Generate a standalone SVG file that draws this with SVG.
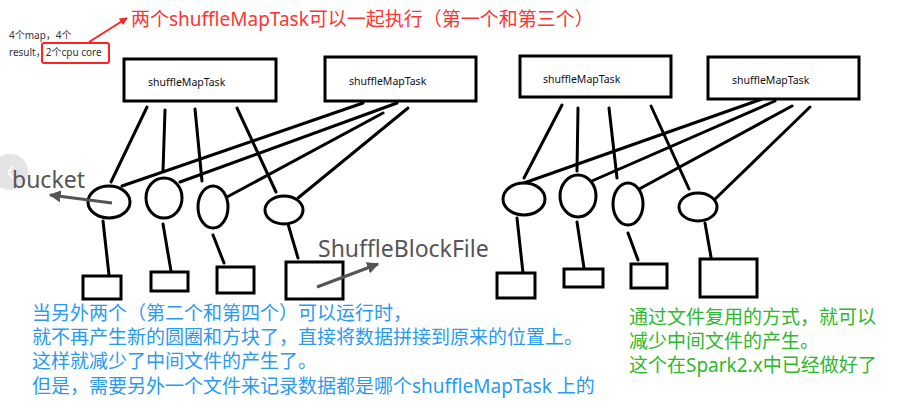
<svg xmlns="http://www.w3.org/2000/svg" width="917" height="416" viewBox="0 0 917 416">
<defs>
<style>
.box{fill:#fff;stroke:#000;stroke-width:3}
.ln{stroke:#000;stroke-width:3;fill:none;stroke-linecap:round}
.ell{fill:#fff;stroke:#000;stroke-width:3}
.blk{fill:#fff;stroke:#000;stroke-width:3}
.lbl{font-family:"Noto Sans","Noto Sans CJK SC",sans-serif;font-size:10.5px;fill:#111}
.cn{font-family:"Noto Sans","Noto Sans CJK SC",sans-serif}
.grey{font-family:"Noto Sans",sans-serif;font-size:23px;fill:#555}
</style>
<marker id="ga" viewBox="0 0 10 10" refX="9" refY="5" markerWidth="4" markerHeight="4" orient="auto"><path d="M0,0L10,5L0,10z" fill="#555"/></marker>
<marker id="ra" viewBox="0 0 10 10" refX="9" refY="5" markerWidth="4" markerHeight="4" orient="auto"><path d="M0,0L10,5L0,10z" fill="#f22"/></marker>
</defs>
<rect width="917" height="416" fill="#fff"/>
<circle cx="10" cy="172" r="18" fill="#e4e4e4"/>
<path d="M13,166L8,172L13,178" stroke="#fff" stroke-width="1.5" fill="none"/>

<g id="connectors">
<line class="ln" x1="147" y1="107" x2="111" y2="182"/>
<line class="ln" x1="165" y1="110" x2="163" y2="171"/>
<line class="ln" x1="195" y1="109" x2="202" y2="181"/>
<line class="ln" x1="237" y1="108" x2="276" y2="192"/>
<line class="ln" x1="363" y1="103" x2="122" y2="186"/>
<line class="ln" x1="397" y1="103" x2="180" y2="182"/>
<line class="ln" x1="383" y1="113" x2="227" y2="197"/>
<line class="ln" x1="408" y1="108" x2="298" y2="198"/>
<line class="ln" x1="103" y1="221" x2="109" y2="275"/>
<line class="ln" x1="163" y1="224" x2="171" y2="271"/>
<line class="ln" x1="213" y1="235" x2="224" y2="263"/>
<line class="ln" x1="288" y1="224" x2="298" y2="258"/>
<line class="ln" x1="562" y1="105" x2="524" y2="178"/>
<line class="ln" x1="578" y1="108" x2="577" y2="171"/>
<line class="ln" x1="609" y1="108" x2="617" y2="178"/>
<line class="ln" x1="651" y1="106" x2="689" y2="189"/>
<line class="ln" x1="762" y1="99" x2="524" y2="183"/>
<line class="ln" x1="775" y1="101" x2="585" y2="184"/>
<line class="ln" x1="792" y1="106" x2="630" y2="194"/>
<line class="ln" x1="810" y1="107" x2="712" y2="202"/>
<line class="ln" x1="517" y1="218" x2="523" y2="273"/>
<line class="ln" x1="577" y1="222" x2="584" y2="268"/>
<line class="ln" x1="628" y1="233" x2="638" y2="260"/>
<line class="ln" x1="705" y1="223" x2="711" y2="257"/>
</g>

<g id="task1"><rect class="box" x="124" y="59" width="152" height="42"/><text class="lbl" x="148" y="86">shuffleMapTask</text></g>
<g id="task2"><rect class="box" x="325" y="57" width="151" height="44"/><text class="lbl" x="349" y="85">shuffleMapTask</text></g>
<g id="task3"><rect class="box" x="520" y="56" width="151" height="41"/><text class="lbl" x="543" y="83">shuffleMapTask</text></g>
<g id="task4"><rect class="box" x="708" y="57" width="151" height="42"/><text class="lbl" x="732" y="84">shuffleMapTask</text></g>

<g id="bucket1"><ellipse class="ell" cx="109" cy="202" rx="21" ry="16"/></g>
<g id="bucket2"><ellipse class="ell" cx="164" cy="198" rx="18" ry="20"/></g>
<g id="bucket3"><ellipse class="ell" cx="213" cy="207" rx="15" ry="21"/></g>
<g id="bucket4"><ellipse class="ell" cx="284" cy="210" rx="19" ry="14"/></g>
<g id="bucket5"><ellipse class="ell" cx="524" cy="199" rx="21" ry="16"/></g>
<g id="bucket6"><ellipse class="ell" cx="578" cy="196" rx="18" ry="21"/></g>
<g id="bucket7"><ellipse class="ell" cx="628" cy="204" rx="15" ry="21"/></g>
<g id="bucket8"><ellipse class="ell" cx="698" cy="207" rx="19" ry="14"/></g>

<g id="file1"><rect class="blk" x="83" y="276" width="38" height="23"/></g>
<g id="file2"><rect class="blk" x="151" y="272" width="37" height="19"/></g>
<g id="file3"><rect class="blk" x="217" y="267" width="37" height="26"/></g>
<g id="file4"><rect class="blk" x="286" y="262" width="57" height="37"/></g>
<g id="file5"><rect class="blk" x="497" y="273" width="38" height="25"/></g>
<g id="file6"><rect class="blk" x="564" y="269" width="39" height="18"/></g>
<g id="file7"><rect class="blk" x="631" y="264" width="36" height="24"/></g>
<g id="file8"><rect class="blk" x="700" y="259" width="57" height="38"/></g>

<g id="annotations">
<text class="grey" x="12" y="188">bucket</text>
<line x1="112" y1="203" x2="50" y2="195" stroke="#555" stroke-width="3" marker-end="url(#ga)"/>
<text class="grey" x="318" y="257">ShuffleBlockFile</text>
<line x1="317" y1="287" x2="378" y2="264" stroke="#555" stroke-width="3" marker-end="url(#ga)"/>

<text class="cn" x="9" y="39" font-size="10" fill="#333">4个map，4个</text>
<text class="cn" x="9" y="56" font-size="10" fill="#333">result，2个cpu core</text>
<rect x="42" y="43" width="67" height="20" rx="2" fill="none" stroke="#f22" stroke-width="2"/>
<line x1="89" y1="42" x2="127" y2="18" stroke="#f22" stroke-width="2" marker-end="url(#ra)"/>
<text class="cn" x="131" y="26" font-size="19" fill="#f33">两个shuffleMapTask可以一起执行（第一个和第三个）</text>

<g fill="#2a9af0" font-size="19" class="cn">
<text x="32" y="320">当另外两个（第二个和第四个）可以运行时，</text>
<text x="32" y="344">就不再产生新的圆圈和方块了，直接将数据拼接到原来的位置上。</text>
<text x="32" y="368">这样就减少了中间文件的产生了。</text>
<text x="32" y="393">但是，需要另外一个文件来记录数据都是哪个shuffleMapTask 上的</text>
</g>
<g fill="#2db82d" font-size="19" class="cn">
<text x="629" y="324">通过文件复用的方式，就可以</text>
<text x="629" y="348">减少中间文件的产生。</text>
<text x="629" y="372">这个在Spark2.x中已经做好了</text>
</g>
</g>
</svg>
